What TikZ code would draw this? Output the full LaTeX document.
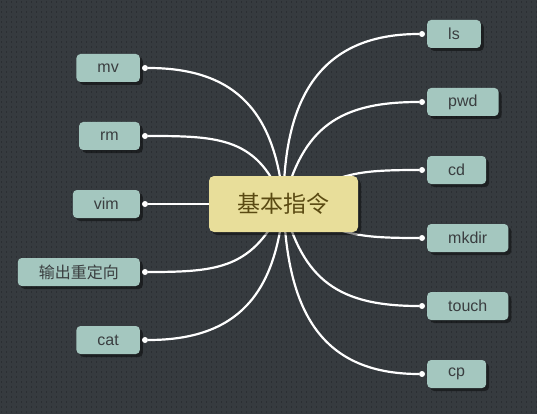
\documentclass[tikz,border=0pt]{standalone}
\usepackage{fontspec}
\setmainfont{Liberation Sans}
\newfontfamily\cjk{Noto Sans CJK SC}
\usepackage{tikz}
\usetikzlibrary{positioning, shadows}
\definecolor{bgD}{HTML}{363B3F}
\definecolor{dotD}{HTML}{2B2F33}
\definecolor{leafF}{HTML}{A4C7BF}
\definecolor{leafT}{HTML}{3A3E40}
\definecolor{rootF}{HTML}{E8DE9A}
\definecolor{rootT}{HTML}{5A4A12}

\tikzset{
  leaf/.style={fill=leafF, text=leafT, rounded corners=4pt,
    minimum height=28pt, inner xsep=21pt, inner ysep=0pt,
    font=\fontsize{16}{19}\selectfont,
    drop shadow={shadow xshift=3pt, shadow yshift=-3pt, opacity=0.45, fill=black}},
  rootbox/.style={fill=rootF, text=rootT, rounded corners=5pt,
    minimum width=149pt, minimum height=56pt,
    font=\cjk\fontsize{23}{26}\selectfont,
    drop shadow={shadow xshift=3pt, shadow yshift=-3pt, opacity=0.45, fill=black}},
  knob/.style={circle, fill=white, inner sep=0pt, minimum size=6pt},
  link/.style={white, line width=2.2pt, looseness=1.2}
}

\begin{document}
\begin{tikzpicture}[x=1pt, y=1pt]
  % canvas and dotted grid
  \fill[bgD] (0,-414) rectangle (537,0);
  \useasboundingbox (0,-414) rectangle (537,0);
  \foreach \r in {0,...,82}
     \draw[dotD, line width=1.3pt, dash pattern=on 1.3pt off 3.7pt]
        (1,-\r*5-2) -- (537,-\r*5-2);
  \coordinate (hub) at (283.5,-204);
  % left side: name/text/y/out angle
  \foreach \nm/\txt/\yy/\ang in {%
     mv/mv/68/95, rm/rm/136/110, vim/vim/204/180,
     redir/{\cjk 输出重定向}/272/-115, cat/cat/340/-95}{
     \node[leaf, anchor=east] (\nm) at (140,-\yy) {\txt};
     \node[knob] (k-\nm) at ([xshift=5pt]\nm.east) {};
     \draw[link] (hub) to[out=\ang, in=0] (k-\nm);
  }
  % right side
  \foreach \nm/\txt/\yy/\ang in {%
     ls/ls/34/90, pwd/pwd/102/76, cd/cd/170/28,
     mkdir/mkdir/238/-28, touch/touch/306/-76, cp/cp/374/-88}{
     \node[leaf, anchor=west] (\nm) at (427,-\yy) {\txt};
     \node[knob] (k-\nm) at ([xshift=-5pt]\nm.west) {};
     \draw[link] (hub) to[out=\ang, in=180] (k-\nm);
  }
  % central topic
  \node[rootbox] (root) at (hub) {基本指令};
\end{tikzpicture}
\end{document}
